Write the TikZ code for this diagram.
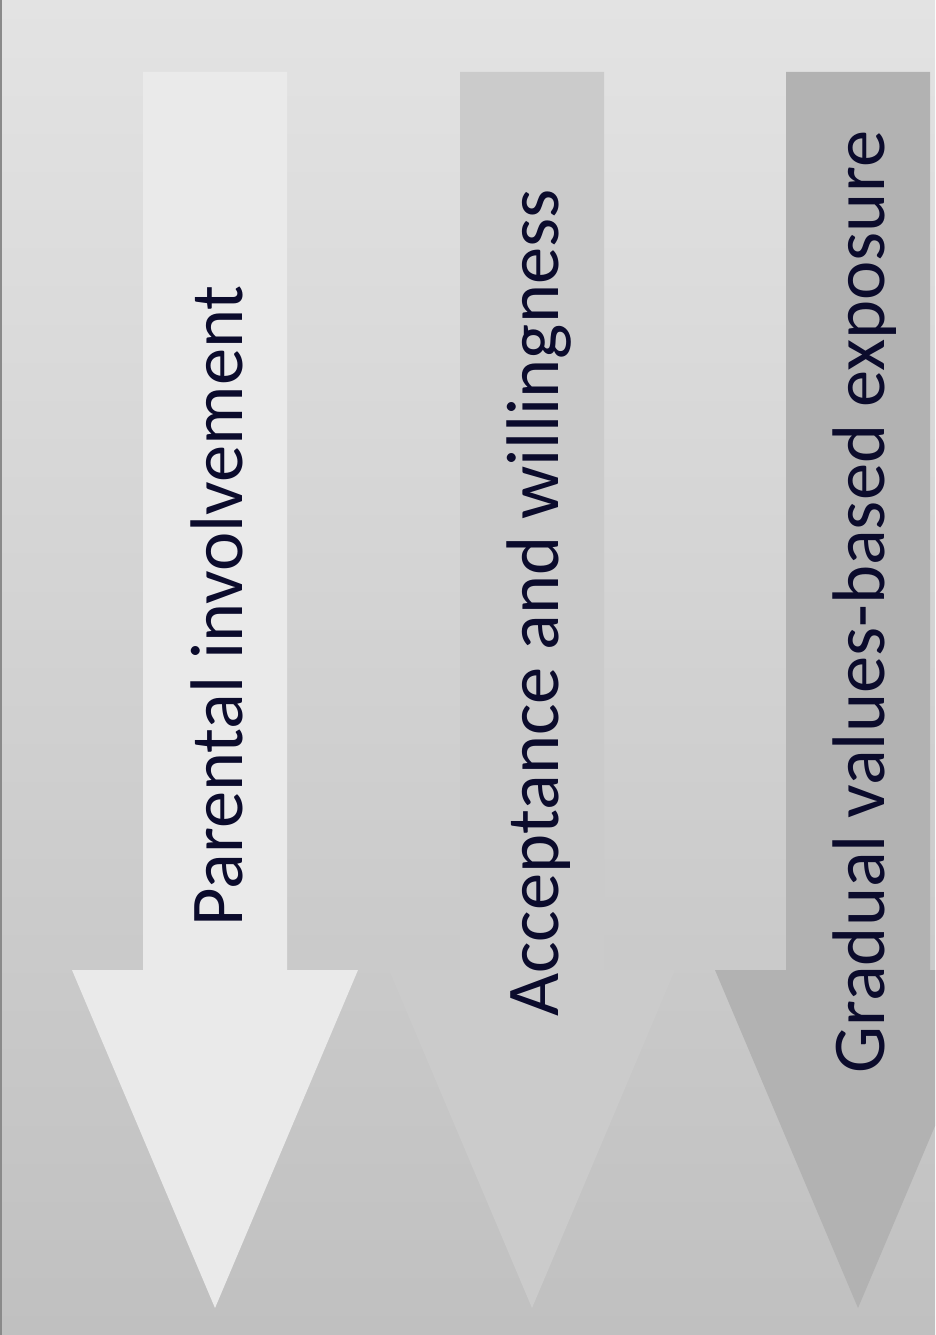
\documentclass[tikz,border=0pt]{standalone}
\usepackage{fontspec}
\setmainfont{Carlito}
\usetikzlibrary{positioning}
\definecolor{bgtop}{HTML}{E3E3E3}
\definecolor{bgbottom}{HTML}{C0C0C0}
\definecolor{framegray}{HTML}{8A8A8A}
\definecolor{arrowone}{HTML}{EAEAEA}
\definecolor{arrowtwo}{HTML}{CBCBCB}
\definecolor{arrowthree}{HTML}{B2B2B2}
\definecolor{labelnavy}{HTML}{0B0B2C}
\tikzset{
arrowlabel/.style={
  rotate=90,
  anchor=base,
  inner sep=0pt,
  text=labelnavy,
  font=\fontsize{74.5}{89}\selectfont,
  }
}
\begin{document}
\begin{tikzpicture}[x=1pt,y=-1pt]
    \useasboundingbox (0,0) rectangle (935,1335);
    \clip (0,0) rectangle (935,1335);
    % background panel
    \shade[top color=bgtop, bottom color=bgbottom] (0,0) rectangle (935,1335);
    \draw[framegray, line width=1.5pt] (0.8,0) -- (0.8,1335);
    % down arrows
    \foreach \cx/\col in {215/arrowone, 532/arrowtwo, 858/arrowthree}
      \fill[\col] (\cx-72,72) -- (\cx+72,72) -- (\cx+72,970) -- (\cx+143,970)
        -- (\cx,1308) -- (\cx-143,970) -- (\cx-72,970) -- cycle;
    % labels
    \node[arrowlabel] (parental) at (242,606) {Parental involvement};
    \node[arrowlabel] (acceptance) at (558,603) {Acceptance and willingness};
    \node[arrowlabel] (gradual) at (884,602) {Gradual values-based exposure};
\end{tikzpicture}
\end{document}
